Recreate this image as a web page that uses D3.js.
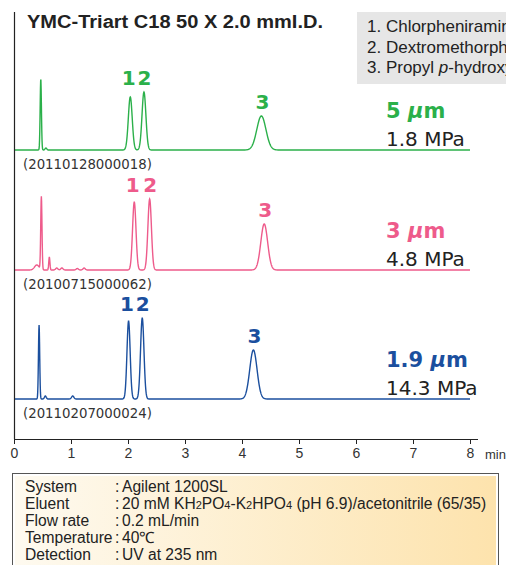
<!DOCTYPE html>
<html>
<head>
<meta charset="utf-8">
<script src="https://cdn.jsdelivr.net/npm/d3@7"></script>
<style>
  body { margin: 0; background: #fff; }
  svg { display: block; font-family: 'Liberation Sans', Arial, Helvetica, sans-serif; }
  .wide { font-family: 'DejaVu Sans', 'Liberation Sans', sans-serif; }
</style>
</head>
<body>
<div id="chart"></div>
<script>
// chromatogram data
const particleSizes = ['5', '3', '1.9']
const pressures = ['1.8 MPa', '4.8 MPa', '14.3 MPa']
const runIds = ['(20110128000018)', '(20100715000062)', '(20110207000024)']
const baselines = [289, 169, 40]

// peaks per run: retention time (min), height, sigma (min)
const peakTimes = [
  [0.47, 0.56, 2.04, 2.28, 4.34],
  [0.40, 0.48, 0.62, 0.75, 0.84, 1.11, 1.23, 2.11, 2.38, 4.39],
  [0.44, 0.55, 1.03, 2.01, 2.25, 4.20],
]
const peakHeights = [
  [71, 2, 53, 58, 34],
  [5, 73, 13, 2, 2, 1.5, 2, 68, 71, 46],
  [74, 3, 3, 78, 81, 49],
]
const peakWidths = [
  [0.011, 0.015, 0.034, 0.034, 0.08],
  [0.04, 0.011, 0.01, 0.02, 0.02, 0.02, 0.02, 0.03, 0.031, 0.06],
  [0.011, 0.015, 0.02, 0.028, 0.03, 0.064],
]
// which peak index is compound 1, 2, 3
const compoundIdx = [[2, 3, 4], [7, 8, 9], [3, 4, 5]]

const timeTicks = [0, 1, 2, 3, 4, 5, 6, 7, 8]
const compounds = ['1. Chlorpheniramine maleate', '2. Dextromethorphan hydrobromide', '3. Propyl ', 'p', '-hydroxybenzoate']
const conditionNames = ['System', 'Eluent', 'Flow rate', 'Temperature', 'Detection']
const conditionValues = ['Agilent 1200SL', null, '0.2 mL/min', '40℃', 'UV at 235 nm']

const COLORS = ['#2bb04a', '#ee5b8b', '#1b4f9e']

const svg = d3.select('#chart')
  .append('svg')
  .attr('width', 506)
  .attr('height', 565)

const x = d3.scaleLinear().domain([0, 8]).range([14, 470])
const y = d3.scaleLinear().domain([0, 430]).range([439, 9])

const grid = d3.range(0, 8.0001, 0.004)

function trace (i) {
  return grid.map(t => {
    let v = 0
    peakTimes[i].forEach((pt, k) => {
      const s = peakWidths[i][k]
      v += peakHeights[i][k] * Math.exp(-0.5 * ((t - pt) / s) ** 2)
    })
    return [t, baselines[i] + v]
  })
}

const line = d3.line().x(d => x(d[0])).y(d => y(d[1]))

// title
svg.append('text')
  .attr('x', 27).attr('y', 28)
  .attr('font-size', 18).attr('font-weight', 'bold').attr('fill', '#222')
  .attr('textLength', 296).attr('lengthAdjust', 'spacingAndGlyphs')
  .text('YMC-Triart C18 50 X 2.0 mmI.D.')

// compound legend
svg.append('rect')
  .attr('x', 357).attr('y', 12).attr('width', 160).attr('height', 72)
  .attr('fill', '#e6e6e6')
const leg = svg.append('g').attr('font-size', 17).attr('fill', '#222')
leg.append('text').attr('x', 367).attr('y', 32).text(compounds[0])
leg.append('text').attr('x', 367).attr('y', 52.5).text(compounds[1])
const l3 = leg.append('text').attr('x', 367).attr('y', 73)
l3.append('tspan').text(compounds[2])
l3.append('tspan').attr('font-style', 'italic').text(compounds[3])
l3.append('tspan').text(compounds[4])

// traces
particleSizes.forEach((ps, i) => {
  const g = svg.append('g').attr('class', 'run')
  g.append('path')
    .datum(trace(i))
    .attr('d', line)
    .attr('fill', 'none')
    .attr('stroke', COLORS[i])
    .attr('stroke-width', 1.4)

  const hs = compoundIdx[i].map(k => peakHeights[i][k])
  const ts = compoundIdx[i].map(k => peakTimes[i][k])
  const top12 = y(baselines[i] + Math.max(hs[0], hs[1])) - 7
  const top3 = y(baselines[i] + hs[2]) - 7
  const lab = g.append('g')
    .attr('class', 'wide')
    .attr('font-size', 20).attr('font-weight', 'bold')
    .attr('fill', COLORS[i]).attr('text-anchor', 'middle')
  lab.append('text').attr('x', x(ts[0]) - 1.5).attr('y', top12).text('1')
  lab.append('text').attr('x', x(ts[1]) + 0.5).attr('y', top12).text('2')
  lab.append('text').attr('x', x(ts[2]) + 1).attr('y', top3).text('3')

  const by = y(baselines[i])
  const pl = g.append('text')
    .attr('class', 'wide')
    .attr('x', 386).attr('y', by - 32)
    .attr('font-size', 21).attr('font-weight', 'bold').attr('fill', COLORS[i])
  pl.append('tspan').text(ps + ' ')
  pl.append('tspan').attr('font-style', 'italic').text('µ')
  pl.append('tspan').text('m')

  g.append('text')
    .attr('class', 'wide')
    .attr('x', 386).attr('y', by - 4)
    .attr('font-size', 20).attr('fill', '#222')
    .text(pressures[i])

  g.append('text')
    .attr('class', 'wide')
    .attr('x', 23).attr('y', by + 19)
    .attr('font-size', 13.3).attr('fill', '#333')
    .text(runIds[i])
})

// axes
svg.append('line')
  .attr('x1', 14.5).attr('x2', 14.5).attr('y1', 12).attr('y2', 439)
  .attr('stroke', '#222').attr('stroke-width', 1.2)

const axis = svg.append('g')
  .attr('transform', 'translate(0,439)')
  .call(d3.axisBottom(x).tickValues(timeTicks).tickSize(5).tickSizeOuter(0).tickPadding(4))
axis.select('.domain').remove()
axis.append('line')
  .attr('x1', 14).attr('x2', 478).attr('y1', 0.5).attr('y2', 0.5)
  .attr('stroke', '#222')
axis.selectAll('.tick line').attr('stroke', '#222')
axis.selectAll('.tick text')
  .attr('font-size', 14).attr('fill', '#333')
  .attr('font-family', "'Liberation Sans', Arial, sans-serif")
svg.append('text')
  .attr('x', 485).attr('y', 459)
  .attr('font-size', 13).attr('fill', '#333')
  .text('min')

// conditions box
const defs = svg.append('defs')
const grad = defs.append('linearGradient').attr('id', 'cond')
grad.append('stop').attr('offset', '0%').attr('stop-color', '#fefaf0')
grad.append('stop').attr('offset', '100%').attr('stop-color', '#fde3ad')

svg.append('rect')
  .attr('x', 12.5).attr('y', 473.5).attr('width', 486).attr('height', 110)
  .attr('fill', '#fff').attr('stroke', '#555')
svg.append('rect')
  .attr('x', 15).attr('y', 476).attr('width', 481).attr('height', 110)
  .attr('fill', 'url(#cond)')

const cond = svg.append('g').attr('font-size', 15.6).attr('fill', '#222')
const rowY = d3.range(5).map(k => 491.5 + k * 17.2)
conditionNames.forEach((n, k) => {
  cond.append('text').attr('x', 25).attr('y', rowY[k]).text(n)
  cond.append('text').attr('x', 115).attr('y', rowY[k]).text(':')
  if (conditionValues[k]) {
    cond.append('text').attr('x', 122).attr('y', rowY[k]).text(conditionValues[k])
  }
})
const el = cond.append('text').attr('x', 122).attr('y', rowY[1])
el.append('tspan').text('20 mM KH')
el.append('tspan').attr('font-size', 11).text('2')
el.append('tspan').text('PO')
el.append('tspan').attr('font-size', 11).text('4')
el.append('tspan').text('-K')
el.append('tspan').attr('font-size', 11).text('2')
el.append('tspan').text('HPO')
el.append('tspan').attr('font-size', 11).text('4')
el.append('tspan').text(' (pH 6.9)/acetonitrile (65/35)')
</script>
</body>
</html>
